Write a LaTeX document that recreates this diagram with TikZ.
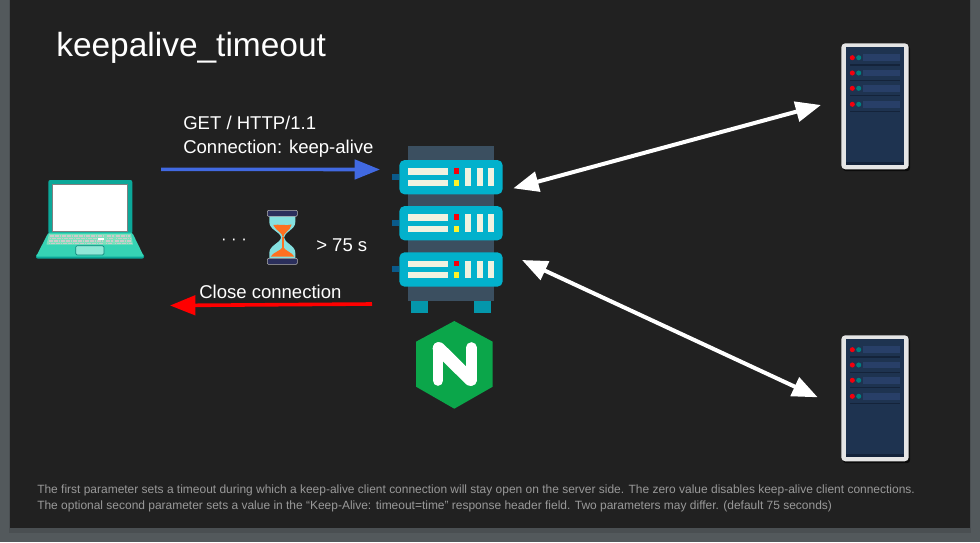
\documentclass[tikz,border=0pt]{standalone}
\usepackage{fontspec}
\setmainfont{Liberation Sans}
\usetikzlibrary{arrows.meta}
\definecolor{slidebg}{HTML}{53595C}
\definecolor{slideshade}{HTML}{4A4F52}
\definecolor{panel}{HTML}{212121}
\definecolor{rackback}{HTML}{3B4F60}
\definecolor{rackunit}{HTML}{02B1CC}
\definecolor{rackfoot}{HTML}{0497AB}
\definecolor{rackplug}{HTML}{0A5A8A}
\definecolor{rackbar}{HTML}{F0F2E0}
\definecolor{ngxgreen}{HTML}{0BA64A}
\definecolor{srvbody}{HTML}{1E3350}
\definecolor{srvbar}{HTML}{283F68}
\definecolor{srvline}{HTML}{14233A}
\definecolor{lapdark}{HTML}{0BA899}
\definecolor{lapbase}{HTML}{36D3B4}
\definecolor{lapkeys}{HTML}{7FE0BC}
\definecolor{glass}{HTML}{85E0E0}
\definecolor{sand}{HTML}{FF7020}
\definecolor{capblue}{HTML}{2B2F5C}
\definecolor{reqblue}{HTML}{4169E1}
\tikzset{
  label/.style={font=\fontsize{13.9}{16}\selectfont,text=white,anchor=base west,inner sep=0pt},
  note/.style={font=\fontsize{8.98}{11}\selectfont,text=black!40!white,anchor=base west,inner sep=0pt},
  flow/.style={line width=2.7pt,-{Triangle[length=19pt,width=14.5pt]}},
  duplex/.style={line width=3pt,white,{Triangle[length=19pt,width=15pt]}-{Triangle[length=19pt,width=15pt]}},
  keyrow/.style={black!20!white,line width=1.2pt,dash pattern=on 1.4pt off 0.4pt},
  serverbox/.pic={
    \fill[black!70!panel,rounded corners=2pt] (843,46) rectangle (910,171);
    \fill[black!10!white,rounded corners=3pt] (841.3,43.3) rectangle (908.7,169.3);
    \fill[srvline] (845.7,47.3) rectangle (904.3,165);
    \fill[srvbody] (845.7,47.3) rectangle (904.3,161.5);
    \foreach \y in {57.7,73,88.3,104.3}{
      \fill[srvbar] (863.3,\y-3.3) rectangle (900,\y+3.3);
      \fill[red!80!purple] (852.3,\y) circle (1.9pt);
      \fill[teal] (858.7,\y) circle (1.9pt);
      \fill[srvline] (850,\y+6.7) rectangle (900,\y+8);
    }
  }
}
\begin{document}
\begin{tikzpicture}[x=0.75pt,y=-0.75pt]
  \useasboundingbox (0,0) rectangle (980,542);
  \fill[slidebg] (0,0) rectangle (980,542);
  \fill[slideshade] (9,0) rectangle (971,533);
  \fill[panel] (10,0) rectangle (970,528);

  \node[label,font=\fontsize{25.1}{30}\selectfont] (title) at (56,56) {keepalive\_timeout};
  \node[label] (reqline) at (183,129) {GET / HTTP/1.1};
  \node[label] (reqhead) at (183,153) {Connection: keep-alive};
  \node[label] (closemsg) at (199,298) {Close connection};
  \node[label] (waitmsg) at (316,251) {> 75 s};
  \node[label,anchor=center,font=\fontsize{12.5}{14}\selectfont] (waitdots) at (234,242) {· · ·};
  \node[note] (noteA) at (37,493) {The first parameter sets a timeout during which a keep-alive client connection will stay open on the server side. The zero value disables keep-alive client connections.};
  \node[note] (noteB) at (37,509) {The optional second parameter sets a value in the “Keep-Alive: timeout=time” response header field. Two parameters may differ. (default 75 seconds)};

  \fill[lapdark,rounded corners=1.5pt] (48.3,180) rectangle (132.3,234);
  \fill[white] (52.7,184.7) rectangle (127.7,231);
  \draw[gray,line width=0.4pt] (52.7,184.7) rectangle (127.7,231);
  \fill[lapdark,rounded corners=1.5pt] (36,254) rectangle (144,258.7);
  \fill[lapbase,rounded corners=1pt] (48.3,232.7) -- (132.3,232.7) -- (144,256.7) -- (36,256.7) -- cycle;
  \fill[lapkeys] (49,234) -- (131,234) -- (133,244.5) -- (46.5,244.5) -- cycle;
  \foreach \y/\a/\b in {236/50/130,238.5/49.5/130.5,241/49/131,243.3/48.5/131.5}{
    \draw[keyrow] (\a,\y) -- (\a+54,\y);
    \draw[keyrow] (\a+57,\y) -- (\a+64,\y);
    \draw[keyrow] (\a+66,\y) -- (\b,\y);
  }
  \fill[white] (98,237.6) rectangle (104,240.4);
  \fill[lapbase!55!white,draw=lapdark!80!black,line width=0.5pt,rounded corners=1pt] (75.7,245.7) rectangle (104,255);

  \fill[glass] (269.3,216) -- (269.3,222) .. controls (269.3,230) and (280.7,232) .. (281,237.5) .. controls (280.7,243) and (269.3,245) .. (269.3,253) -- (269.3,258) -- (295.3,258) -- (295.3,253) .. controls (295.3,245) and (284.3,243) .. (284,237.5) .. controls (284.3,232) and (295.3,230) .. (295.3,222) -- (295.3,216) -- cycle;
  \fill[sand] (273.3,225) .. controls (278,224) and (287,226) .. (291.7,224.5) .. controls (290,231) and (284,232) .. (283,237.5) .. controls (282,232) and (276,231) .. (273.3,225) -- cycle;
  \draw[sand,line width=0.8pt] (283,237) -- (283,248);
  \fill[sand] (283,246.7) .. controls (285,251) and (292,252) .. (294.3,256.7) -- (270.7,256.7) .. controls (273,252) and (281,251) .. (283,246.7) -- cycle;
  \foreach \y in {210.3,258.3}{
    \fill[capblue,draw=black!30!white,line width=0.4pt,rounded corners=0.8pt] (267.3,\y) rectangle (297.3,\y+6);
  }

  \fill[rackback] (408,146) rectangle (494,301);
  \foreach \x in {411,474}{\fill[rackfoot] (\x,301) rectangle (\x+17,312.7);}
  \foreach \y/\n in {160/1,206/2,252.3/3}{
    \fill[rackplug] (392,\y+14) rectangle (399.3,\y+20);
    \node[fill=rackunit,rounded corners=4pt,inner sep=0pt,minimum width=77.5pt,minimum height=25.8pt] (unit\n) at (451,\y+17.2) {};
    \fill[rackbar] (408,\y+8.3) rectangle (448.3,\y+14.7);
    \fill[rackbar] (408,\y+20) rectangle (448.3,\y+26);
    \fill[red!85!purple] (454,\y+8.3) rectangle (459.3,\y+14);
    \fill[yellow!85!white] (454,\y+20) rectangle (459.3,\y+25.7);
    \foreach \x in {465.3,477,488.3}{\fill[rackbar] (\x,\y+8.3) rectangle (\x+5.7,\y+26);}
  }

  \fill[ngxgreen] (454.3,321) -- (492.7,341.7) -- (492.7,386.7) -- (454.3,408.7) -- (416,386.7) -- (416,341.7) -- cycle;
  \draw[white,line width=8pt,line join=round,line cap=round] (438,380.5) -- (438,347.5);
  \draw[white,line width=8pt,line join=round,line cap=round] (471.3,380.5) -- (471.3,347.5);
  \draw[white,line width=9.5pt,line cap=round] (439,348.5) -- (470.3,379.5);

  \pic (serverA) {serverbox};
  \pic[yshift=-219pt] (serverB) {serverbox};

  \coordinate (reqstart) at (161,169.3);
  \coordinate (reqend) at (380,169.5);
  \coordinate (closestart) at (372,304);
  \coordinate (closeend) at (170,305.5);
  \coordinate (rackupper) at (513.3,188.3);
  \coordinate (rackmiddle) at (522,260);
  \coordinate (serverAport) at (821,105);
  \coordinate (serverBport) at (817.7,397.3);
  \draw[flow,reqblue] (reqstart) -- (reqend);
  \draw[flow,red] (closestart) -- (closeend);
  \draw[duplex] (rackupper) -- (serverAport);
  \draw[duplex] (rackmiddle) -- (serverBport);
\end{tikzpicture}
\end{document}
